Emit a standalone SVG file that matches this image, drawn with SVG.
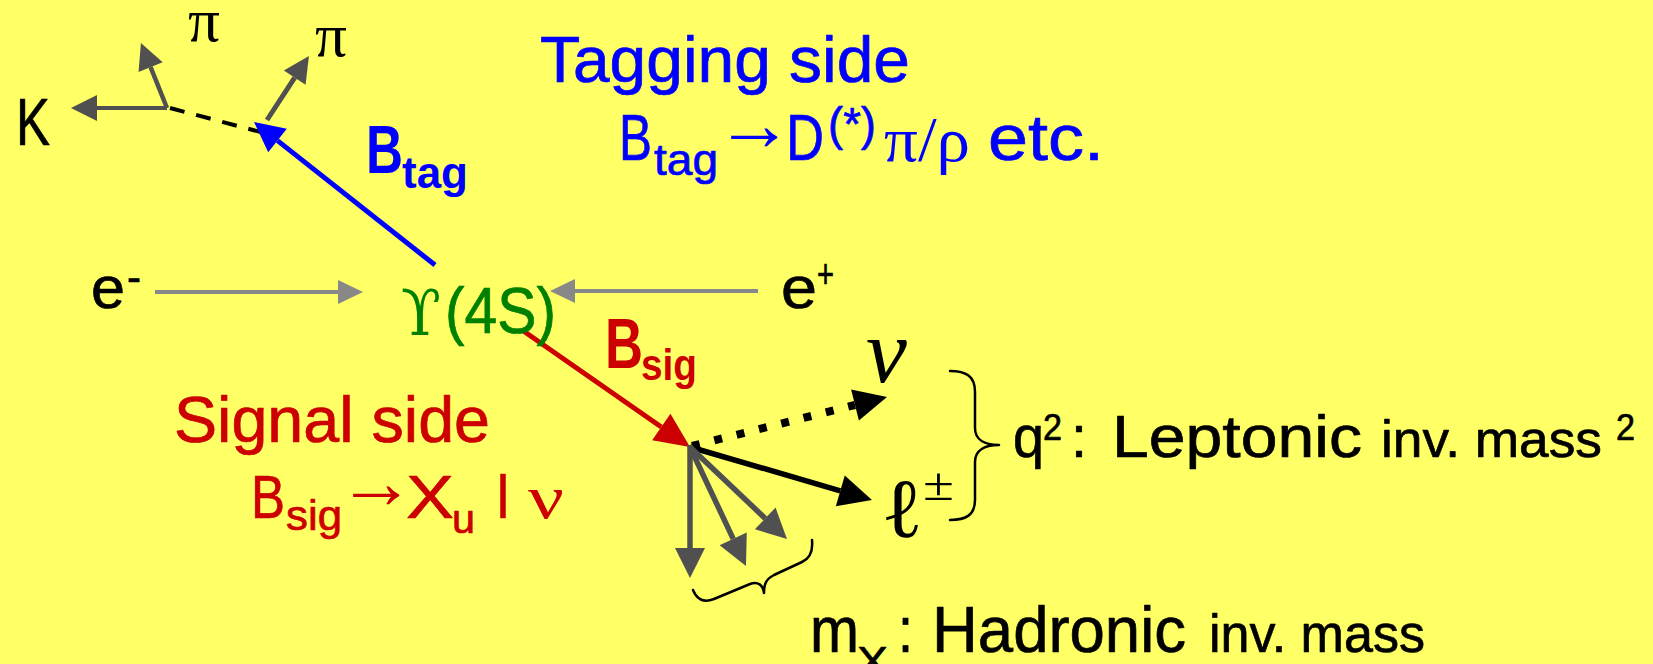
<svg xmlns="http://www.w3.org/2000/svg" width="1653" height="664" viewBox="0 0 1653 664">
<style>
.sans{font-family:"Liberation Sans",Arial,sans-serif}
.serif{font-family:"Liberation Serif","DejaVu Serif",serif}
.dvs{font-family:"DejaVu Serif","Liberation Serif",serif}
.thin{font-family:"DejaVu Sans","Liberation Serif",sans-serif;font-weight:200}
.bold{font-weight:bold}
.st{stroke:currentColor;stroke-width:0.7px;stroke-linejoin:round}
.nost{stroke:none}
.blk{fill:#000;color:#000}
.blue{fill:#0000FF;color:#0000FF}
.red{fill:#CC0000;color:#CC0000}
.green{fill:#008000;color:#008000}
.ln{fill:none;stroke-linecap:butt}
.brace{fill:none;stroke:#000;stroke-width:2.5;stroke-linecap:round;stroke-linejoin:round}
</style>
<defs>
<marker id="hDk" markerUnits="userSpaceOnUse" orient="auto" overflow="visible" refX="0" refY="0" markerWidth="1" markerHeight="1"><path d="M0,-13 L26,0 L0,13 Z" fill="#505050"/></marker>
<marker id="hDkL" markerUnits="userSpaceOnUse" orient="auto" overflow="visible" refX="0" refY="0" markerWidth="1" markerHeight="1"><path d="M0,-15 L30,0 L0,15 Z" fill="#505050"/></marker>
<marker id="hGr" markerUnits="userSpaceOnUse" orient="auto" overflow="visible" refX="0" refY="0" markerWidth="1" markerHeight="1"><path d="M0,-12 L25,0 L0,12 Z" fill="#888888"/></marker>
<marker id="hBl" markerUnits="userSpaceOnUse" orient="auto" overflow="visible" refX="0" refY="0" markerWidth="1" markerHeight="1"><path d="M0,-15 L30,0 L0,15 Z" fill="#0000FF"/></marker>
<marker id="hRd" markerUnits="userSpaceOnUse" orient="auto" overflow="visible" refX="0" refY="0" markerWidth="1" markerHeight="1"><path d="M0,-16 L35,0 L0,16 Z" fill="#CC0000"/></marker>
<marker id="hBk" markerUnits="userSpaceOnUse" orient="auto" overflow="visible" refX="0" refY="0" markerWidth="1" markerHeight="1"><path d="M0,-16 L33,0 L0,16 Z" fill="#000"/></marker>
</defs>
<rect x="0" y="0" width="1653" height="664" fill="#FFFF66"/>

<g id="connectors">
  <path class="ln" d="M167,108 L97,108" stroke="#505050" stroke-width="4" marker-end="url(#hDk)"/>
  <path class="ln" d="M167,108 L150.6,67.1" stroke="#505050" stroke-width="4.5" marker-end="url(#hDk)"/>
  <path class="ln" d="M170,108 L268,134" stroke="#000" stroke-width="4" stroke-dasharray="15 12"/>
  <path class="ln" d="M267,120 L294.7,77.7" stroke="#505050" stroke-width="5" marker-end="url(#hDk)"/>
  <path class="ln" d="M435,265 L277.5,140.6" stroke="#0000FF" stroke-width="5" marker-end="url(#hBl)"/>
  <path class="ln" d="M155,292 L338,292" stroke="#888888" stroke-width="4" marker-end="url(#hGr)"/>
  <path class="ln" d="M758,291 L575,291" stroke="#888888" stroke-width="4" marker-end="url(#hGr)"/>
  <path class="ln" d="M522,330 L661.3,427" stroke="#CC0000" stroke-width="5" marker-end="url(#hRd)"/>
  <path class="ln" d="M692,446 L855,405" stroke="#000" stroke-width="8" stroke-dasharray="8 15" marker-end="url(#hBk)"/>
  <path class="ln" d="M690,447 L840.3,490.8" stroke="#000" stroke-width="5.5" marker-end="url(#hBk)"/>
  <path class="ln" d="M690,445 L690,548" stroke="#505050" stroke-width="5.5" marker-end="url(#hDkL)"/>
  <path class="ln" d="M690,447 L733.2,538.8" stroke="#505050" stroke-width="5.5" marker-end="url(#hDkL)"/>
  <path class="ln" d="M690,447 L765.2,518.4" stroke="#505050" stroke-width="5.5" marker-end="url(#hDkL)"/>
</g>

<g id="brace-lepton">
  <path class="brace" d="M950,371 C966,371 975,376 975,392 L975,428 C975,440 985,445 999,445 C985,445 975,450 975,462 L975,500 C975,515 966,520 950,520"/>
</g>
<g id="brace-hadron">
  <path class="brace" d="M693,590 C697,600 704,603 714,599 L750,584 C758,581 763,585 764,593 C764,584 766,579 774,575 L802,562 C811,558 813,550 812,540"/>
</g>

<g id="node-K"><text class="sans blk st" x="16" y="145" font-size="66" textLength="34" lengthAdjust="spacingAndGlyphs">K</text></g>
<g id="node-pi1"><text class="serif blk" x="188" y="41" font-size="62" textLength="32" lengthAdjust="spacingAndGlyphs">π</text></g>
<g id="node-pi2"><text class="serif blk" x="315" y="56" font-size="62" textLength="32" lengthAdjust="spacingAndGlyphs">π</text></g>
<g id="node-Btag"><text class="sans bold blue"><tspan x="366" y="173" font-size="68" textLength="37" lengthAdjust="spacingAndGlyphs">B</tspan><tspan x="402" y="188" font-size="44" textLength="66" lengthAdjust="spacingAndGlyphs">tag</tspan></text></g>

<g id="node-tagging">
  <text class="sans blue st" x="540" y="82" font-size="64" textLength="370" lengthAdjust="spacingAndGlyphs">Tagging side</text>
  <text class="sans blue st" font-size="64"><tspan x="619" y="160" textLength="33" lengthAdjust="spacingAndGlyphs">B</tspan><tspan x="654" y="175" font-size="45" textLength="64" lengthAdjust="spacingAndGlyphs">tag</tspan><tspan class="serif nost" x="715" y="150" font-size="76" textLength="78" lengthAdjust="spacingAndGlyphs">→</tspan><tspan x="786" y="160" textLength="38" lengthAdjust="spacingAndGlyphs">D</tspan><tspan x="828" y="140" font-size="47" textLength="48" lengthAdjust="spacingAndGlyphs">(*)</tspan><tspan class="serif nost" x="884" y="161" font-size="64" textLength="86" lengthAdjust="spacingAndGlyphs">π/ρ</tspan><tspan x="988" y="160" textLength="116" lengthAdjust="spacingAndGlyphs">etc.</tspan></text>
</g>

<g id="node-eminus"><text class="sans blk st"><tspan x="91" y="308" font-size="60" textLength="34" lengthAdjust="spacingAndGlyphs">e</tspan><tspan x="127" y="292" font-size="42" textLength="14" lengthAdjust="spacingAndGlyphs">-</tspan></text></g>
<g id="node-eplus"><text class="sans blk st"><tspan x="781" y="308" font-size="60" textLength="36" lengthAdjust="spacingAndGlyphs">e</tspan><tspan x="817" y="288" font-size="40" textLength="17" lengthAdjust="spacingAndGlyphs">+</tspan></text></g>
<g id="node-upsilon"><text class="green"><tspan class="dvs" x="401" y="335" font-size="64" textLength="40" lengthAdjust="spacingAndGlyphs">ϒ</tspan><tspan class="sans st" x="445" y="333" font-size="64" textLength="111" lengthAdjust="spacingAndGlyphs">(4S)</tspan></text></g>

<g id="node-Bsig"><text class="sans bold red"><tspan x="605" y="368" font-size="70" textLength="38" lengthAdjust="spacingAndGlyphs">B</tspan><tspan x="641" y="380" font-size="44" textLength="56" lengthAdjust="spacingAndGlyphs">sig</tspan></text></g>

<g id="node-signal">
  <text class="sans red st" x="174" y="442" font-size="64" textLength="316" lengthAdjust="spacingAndGlyphs">Signal side</text>
  <text class="sans red st" font-size="62"><tspan x="251" y="518" textLength="34" lengthAdjust="spacingAndGlyphs">B</tspan><tspan x="286" y="530" font-size="42" textLength="56" lengthAdjust="spacingAndGlyphs">sig</tspan><tspan class="serif nost" x="337" y="508" font-size="76" textLength="78" lengthAdjust="spacingAndGlyphs">→</tspan><tspan x="406" y="518" textLength="48" lengthAdjust="spacingAndGlyphs">X</tspan><tspan x="452" y="533" font-size="40" textLength="23" lengthAdjust="spacingAndGlyphs">u</tspan><tspan x="497" y="518" textLength="12" lengthAdjust="spacingAndGlyphs">l</tspan><tspan class="serif nost" x="528" y="518" textLength="36" lengthAdjust="spacingAndGlyphs">ν</tspan></text>
</g>

<g id="node-nu"><text class="serif blk" x="866" y="382" font-size="92" font-style="italic">ν</text></g>
<g id="node-lepton"><text class="blk"><tspan class="thin" x="881" y="537" font-size="84" textLength="42" lengthAdjust="spacingAndGlyphs">ℓ</tspan><tspan class="serif" x="923" y="500" font-size="46" textLength="31" lengthAdjust="spacingAndGlyphs">±</tspan></text></g>

<g id="node-q2"><text class="sans blk st" font-size="60"><tspan x="1013" y="457" textLength="31" lengthAdjust="spacingAndGlyphs">q</tspan><tspan x="1043" y="440" font-size="36" textLength="19" lengthAdjust="spacingAndGlyphs">2</tspan><tspan x="1071" y="457" textLength="16" lengthAdjust="spacingAndGlyphs">:</tspan><tspan x="1112" y="457" textLength="250" lengthAdjust="spacingAndGlyphs">Leptonic</tspan><tspan x="1381" y="457" font-size="52" textLength="221" lengthAdjust="spacingAndGlyphs">inv. mass</tspan><tspan x="1616" y="440" font-size="36" textLength="19" lengthAdjust="spacingAndGlyphs">2</tspan></text></g>

<g id="node-mx"><text class="sans blk st" font-size="64"><tspan x="810" y="652" textLength="49" lengthAdjust="spacingAndGlyphs">m</tspan><tspan x="857" y="676" font-size="42" textLength="31" lengthAdjust="spacingAndGlyphs">X</tspan><tspan x="898" y="652" textLength="15" lengthAdjust="spacingAndGlyphs">:</tspan><tspan x="932" y="652" textLength="254" lengthAdjust="spacingAndGlyphs">Hadronic</tspan><tspan x="1209" y="652" font-size="54" textLength="216" lengthAdjust="spacingAndGlyphs">inv. mass</tspan></text></g>
</svg>
